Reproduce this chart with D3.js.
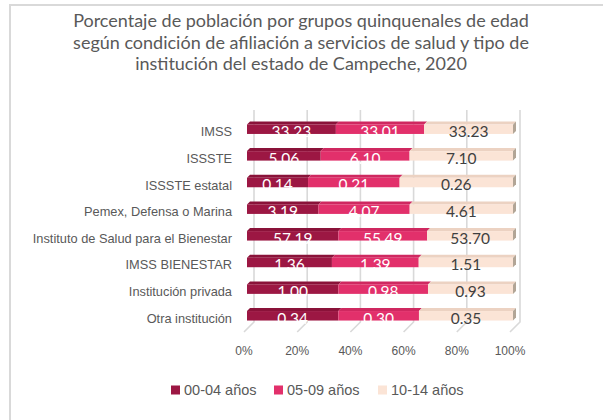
<!DOCTYPE html>
<html>
<head>
<meta charset="utf-8">
<script src="https://cdn.jsdelivr.net/npm/d3@7"></script>
<style>
  body { margin: 0; background: #fff; }
  svg { display: block; }
</style>
</head>
<body>
<svg id="chart"></svg>
<script>
// data
const categories = ["IMSS", "ISSSTE", "ISSSTE estatal", "Pemex, Defensa o Marina",
    "Instituto de Salud para el Bienestar", "IMSS BIENESTAR", "Institución privada", "Otra institución"];
const seriesNames = ["00-04 años", "05-09 años", "10-14 años"];
const age0004 = [33.23, 5.06, 0.14, 3.19, 57.19, 1.36, 1.00, 0.34];
const age0509 = [33.01, 6.10, 0.21, 4.07, 55.49, 1.39, 0.98, 0.30];
const age1014 = [33.23, 7.10, 0.26, 4.61, 53.70, 1.51, 0.93, 0.35];
const tickValues = [0, 0.2, 0.4, 0.6, 0.8, 1];
const titleLines = ["Porcentaje de población por grupos quinquenales de edad",
    "según condición de afiliación a servicios de salud y tipo de",
    "institución del estado de Campeche, 2020"];

const width = 603, height = 420;
const svg = d3.select("#chart").attr("width", width).attr("height", height);

const colors = ["#9c1743", "#e2306b", "#fbe4d6"];
const topColors = ["#8a1239", "#cf2860", "#ecd2c2"];
const labelColors = ["#ffffff", "#ffffff", "#404040"];

// frame (cropped)
svg.append("path")
    .attr("d", "M10,420 L10,5 L603,5")
    .attr("fill", "none")
    .attr("stroke", "#d9d9d9")
    .attr("stroke-width", 2);

// title
svg.append("g").selectAll("text")
    .data(titleLines)
    .enter().append("text")
    .attr("x", 301)
    .attr("y", (d, i) => 27 + i * 21.5)
    .attr("text-anchor", "middle")
    .style("font-family", "Lato, sans-serif")
    .style("font-size", "18px")
    .style("fill", "#595959")
    .text(d => d);

const rows = categories.map((c, i) => ({
    cat: c, s0: age0004[i], s1: age0509[i], s2: age1014[i]
}));
const stack = d3.stack().keys(["s0", "s1", "s2"]).offset(d3.stackOffsetExpand);
const stacked = stack(rows);

const x = d3.scaleLinear().domain([0, 1]).range([247, 513]);
const y = d3.scaleBand().domain(categories).range([107.3, 337.7]).padding(0.644);

// gridlines (back wall + floor)
const gx = 7, fx = -3;
const grid = svg.append("g");
tickValues.forEach(t => {
    grid.append("path")
        .attr("d", `M${x(t) + gx},110 L${x(t) + gx},322 L${x(t) + fx},332`)
        .attr("fill", "none")
        .attr("stroke", "#d9d9d9")
        .attr("stroke-width", 1.6);
});

// tick labels
svg.append("g").selectAll("text")
    .data(tickValues)
    .enter().append("text")
    .attr("x", d => x(d) - 3)
    .attr("y", 355)
    .attr("text-anchor", "middle")
    .style("font-family", "'Liberation Sans', Arial, sans-serif")
    .style("font-size", "12px")
    .style("fill", "#595959")
    .text(d3.format(".0%"));

// category labels
svg.append("g").selectAll("text")
    .data(categories)
    .enter().append("text")
    .attr("x", 232)
    .attr("y", d => y(d) + y.bandwidth() / 2 + 7)
    .attr("text-anchor", "end")
    .style("font-family", "'Liberation Sans', Arial, sans-serif")
    .style("font-size", "12.8px")
    .style("fill", "#595959")
    .text(d => d);

// bars (pseudo 3D)
const dx = 3, dy = -3;
const bars = svg.append("g");
stacked.forEach((layer, si) => {
    const g = bars.append("g");
    g.selectAll("path.top")
        .data(layer)
        .enter().append("path")
        .attr("class", "top")
        .attr("d", d => {
            const x0 = x(d[0]), x1 = x(d[1]), yt = y(d.data.cat);
            return `M${x0},${yt} L${x0 + dx},${yt + dy} L${x1 + dx},${yt + dy} L${x1},${yt} Z`;
        })
        .attr("fill", topColors[si]);
    g.selectAll("rect")
        .data(layer)
        .enter().append("rect")
        .attr("x", d => x(d[0]))
        .attr("y", d => y(d.data.cat))
        .attr("width", d => x(d[1]) - x(d[0]))
        .attr("height", y.bandwidth())
        .attr("fill", colors[si]);
    if (si === stacked.length - 1) {
        g.selectAll("path.side")
            .data(layer)
            .enter().append("path")
            .attr("class", "side")
            .attr("d", d => {
                const x1 = x(d[1]), yt = y(d.data.cat), yb = yt + y.bandwidth();
                return `M${x1},${yt} L${x1 + dx},${yt + dy} L${x1 + dx},${yb + dy} L${x1},${yb} Z`;
            })
            .attr("fill", "#b2a596");
    }
});

// value labels
const valueArrays = [age0004, age0509, age1014];
stacked.forEach((layer, si) => {
    svg.append("g").selectAll("text")
        .data(layer)
        .enter().append("text")
        .attr("x", d => (x(d[0]) + x(d[1])) / 2)
        .attr("y", d => y(d.data.cat) + 12.5)
        .attr("text-anchor", "middle")
        .style("font-family", "Lato, sans-serif")
        .style("font-size", "15.5px")
        .style("fill", labelColors[si])
        .text((d, i) => valueArrays[si][i].toFixed(2));
});

// legend
const legendX = [171, 274, 378];
const legend = svg.append("g");
seriesNames.forEach((name, i) => {
    legend.append("rect")
        .attr("x", legendX[i])
        .attr("y", 385.5)
        .attr("width", 9)
        .attr("height", 9)
        .attr("fill", colors[i]);
    legend.append("text")
        .attr("x", legendX[i] + 13)
        .attr("y", 394.5)
        .style("font-family", "'Liberation Sans', Arial, sans-serif")
        .style("font-size", "14.5px")
        .style("fill", "#595959")
        .text(name);
});
</script>
</body>
</html>
